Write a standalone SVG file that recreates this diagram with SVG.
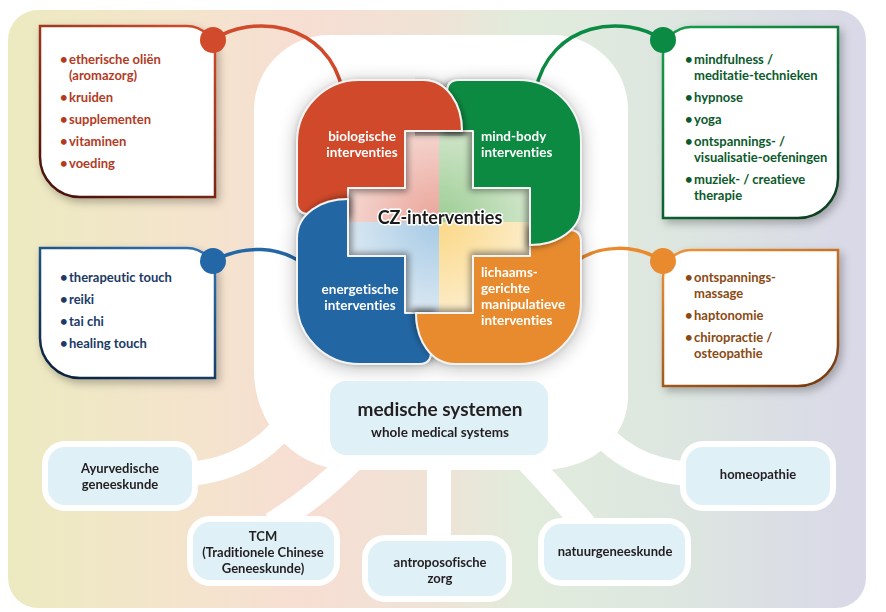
<svg xmlns="http://www.w3.org/2000/svg" width="886" height="612" viewBox="0 0 886 612">
<style>
.t{font-family:Lato,"Liberation Sans",sans-serif;font-weight:700;font-variant-ligatures:none}
.li{font-size:13px}
.cr{fill:#b23b1f}.cb{fill:#1b3a66}.cg{fill:#0b5a2b}.co{fill:#8a4a12}
.pt{fill:#fff;font-size:13.5px}
.nd{fill:#231f20;font-size:13px;text-anchor:middle}
.bn{fill:#dff0f7;stroke:#fff;stroke-width:6}
.br{fill:none;stroke:#fff;stroke-width:24}
.ln{fill:none;stroke-width:3.5}
.box{fill:#fff;stroke-width:2.5}
.pc{stroke:#f4f4f4;stroke-width:2;stroke-linejoin:round}
</style>
<defs>
<linearGradient id="bg" x1="8" y1="0" x2="866" y2="0" gradientUnits="userSpaceOnUse">
<stop offset="0" stop-color="#eceac0"/>
<stop offset="0.18" stop-color="#f3e5cb"/>
<stop offset="0.35" stop-color="#f7ded3"/>
<stop offset="0.5" stop-color="#efe3d6"/>
<stop offset="0.6" stop-color="#e1ecdc"/>
<stop offset="0.78" stop-color="#dde6e0"/>
<stop offset="1" stop-color="#d9d8e8"/>
</linearGradient>
<linearGradient id="gTL" x1="0.8" y1="0" x2="0.2" y2="1"><stop offset="0" stop-color="#cc4b2b"/><stop offset="1" stop-color="#4a1208"/></linearGradient>
<linearGradient id="gBL" x1="0.8" y1="0" x2="0.2" y2="1"><stop offset="0" stop-color="#2d6fae"/><stop offset="1" stop-color="#0e2440"/></linearGradient>
<linearGradient id="gTR" x1="0.2" y1="0" x2="0.8" y2="1"><stop offset="0" stop-color="#169a4a"/><stop offset="1" stop-color="#0b3f1f"/></linearGradient>
<linearGradient id="gBR" x1="0.2" y1="0" x2="0.8" y2="1"><stop offset="0" stop-color="#ea8f34"/><stop offset="1" stop-color="#7a3c10"/></linearGradient>
<radialGradient id="qTL" cx="439" cy="222" r="115" gradientUnits="userSpaceOnUse"><stop offset="0" stop-color="#eaa398"/><stop offset="1" stop-color="#f7e3dd"/></radialGradient>
<radialGradient id="qTR" cx="439" cy="222" r="115" gradientUnits="userSpaceOnUse"><stop offset="0" stop-color="#9ccd94"/><stop offset="1" stop-color="#dcebd6"/></radialGradient>
<radialGradient id="qBL" cx="439" cy="222" r="115" gradientUnits="userSpaceOnUse"><stop offset="0" stop-color="#a6cae5"/><stop offset="1" stop-color="#e6eff5"/></radialGradient>
<radialGradient id="qBR" cx="439" cy="222" r="115" gradientUnits="userSpaceOnUse"><stop offset="0" stop-color="#fcd888"/><stop offset="1" stop-color="#fbf1d8"/></radialGradient>
<filter id="sh" x="-20%" y="-20%" width="140%" height="140%"><feDropShadow dx="3" dy="4" stdDeviation="4" flood-color="#000" flood-opacity="0.28"/></filter>
<filter id="psh" x="-20%" y="-20%" width="140%" height="140%"><feDropShadow dx="2" dy="3" stdDeviation="3" flood-color="#000" flood-opacity="0.4"/></filter>
<filter id="wide" x="-30%" y="-30%" width="160%" height="160%"><feGaussianBlur in="SourceAlpha" stdDeviation="10"/><feOffset dy="3"/><feComponentTransfer><feFuncA type="linear" slope="0.3"/></feComponentTransfer></filter>
<path id="piece" d="M 348,214 L 309,214 Q 297,214 297,202 L 297,142 C 297,108 325,80 359,80 L 423,80 C 447,80 462,104 462,131 L 405,131 L 405,188 L 348,188 Z"/>
<clipPath id="capclip"><rect x="415" y="60" width="60" height="76"/></clipPath>
</defs>

<rect width="886" height="612" fill="#fff"/>
<rect id="panel" x="8" y="10" width="858" height="598" rx="30" fill="url(#bg)"/>
<path id="hub-area" d="M 329,35 H 553 A 75 75 0 0 1 628,110 V 395 C 628,440 590,470 540,470 H 350 C 295,470 254,425 254,370 V 110 A 75 75 0 0 1 329,35 Z" fill="#fff"/>

<g id="box-biologisch">
<path class="box" stroke="url(#gTL)" filter="url(#sh)" d="M 40,26 H 187 A 28 28 0 0 1 215,54 V 197 H 80 A 40 40 0 0 1 40,157 Z"/>
<text class="t li cr"><tspan x="60" y="64">•</tspan><tspan x="69" y="64">etherische oliën</tspan><tspan x="69" y="80">(aromazorg)</tspan><tspan x="60" y="102">•</tspan><tspan x="69" y="102">kruiden</tspan><tspan x="60" y="124">•</tspan><tspan x="69" y="124">supplementen</tspan><tspan x="60" y="146">•</tspan><tspan x="69" y="146">vitaminen</tspan><tspan x="60" y="168">•</tspan><tspan x="69" y="168">voeding</tspan></text>
</g>
<g id="box-energetisch">
<path class="box" stroke="url(#gBL)" filter="url(#sh)" d="M 40,248 H 187 A 28 28 0 0 1 215,276 V 378 H 80 A 40 40 0 0 1 40,338 Z"/>
<text class="t li cb"><tspan x="60" y="282">•</tspan><tspan x="69" y="282">therapeutic touch</tspan><tspan x="60" y="304">•</tspan><tspan x="69" y="304">reiki</tspan><tspan x="60" y="326">•</tspan><tspan x="69" y="326">tai chi</tspan><tspan x="60" y="348">•</tspan><tspan x="69" y="348">healing touch</tspan></text>
</g>
<g id="box-mindbody">
<path class="box" stroke="url(#gTR)" filter="url(#sh)" d="M 691,27 H 838 V 178 A 40 40 0 0 1 798,218 H 663 V 55 A 28 28 0 0 1 691,27 Z"/>
<text class="t li cg"><tspan x="685" y="64">•</tspan><tspan x="694" y="64">mindfulness /</tspan><tspan x="694" y="80">meditatie-technieken</tspan><tspan x="685" y="102">•</tspan><tspan x="694" y="102">hypnose</tspan><tspan x="685" y="124">•</tspan><tspan x="694" y="124">yoga</tspan><tspan x="685" y="146">•</tspan><tspan x="694" y="146">ontspannings- /</tspan><tspan x="694" y="162">visualisatie-oefeningen</tspan><tspan x="685" y="184">•</tspan><tspan x="694" y="184">muziek- / creatieve</tspan><tspan x="694" y="200">therapie</tspan></text>
</g>
<g id="box-lichaam">
<path class="box" stroke="url(#gBR)" filter="url(#sh)" d="M 691,250 H 838 V 346 A 40 40 0 0 1 798,386 H 663 V 278 A 28 28 0 0 1 691,250 Z"/>
<text class="t li co"><tspan x="685" y="282">•</tspan><tspan x="694" y="282">ontspannings-</tspan><tspan x="694" y="298">massage</tspan><tspan x="685" y="320">•</tspan><tspan x="694" y="320">haptonomie</tspan><tspan x="685" y="342">•</tspan><tspan x="694" y="342">chiropractie /</tspan><tspan x="694" y="358">osteopathie</tspan></text>
</g>

<g id="connectors">
<path class="br" d="M 285,425 Q 250,468 190,474"/>
<path class="br" d="M 360,452 Q 320,495 272,524"/>
<path class="br" stroke-width="22" d="M 439,455 L 439,540"/>
<path class="br" d="M 522,455 Q 555,490 585,525"/>
<path class="br" d="M 590,420 Q 625,470 690,474"/>
<path class="ln" stroke="#d04a2b" d="M 213,40 C 250,14 328,20 343,92"/>
<path class="ln" stroke="#0a8a43" d="M 663,40 C 626,14 550,20 535,92"/>
<path class="ln" stroke="#2467a6" d="M 213,261 C 245,244 280,246 305,265"/>
<path class="ln" stroke="#e98a2e" d="M 663,261 C 635,244 600,244 575,262"/>
<circle cx="213" cy="40" r="13" fill="#d04a2b"/>
<circle cx="663" cy="40" r="13" fill="#0a8a43"/>
<circle cx="213" cy="261" r="13" fill="#2467a6"/>
<circle cx="663" cy="261" r="13" fill="#e98a2e"/>
</g>

<g id="clover">
<g filter="url(#wide)">
<use href="#piece" fill="#000"/>
<use href="#piece" fill="#000" transform="rotate(90 439 222)"/>
<use href="#piece" fill="#000" transform="rotate(180 439 222)"/>
<use href="#piece" fill="#000" transform="rotate(270 439 222)"/>
</g>
<rect x="348" y="131" width="91" height="91" fill="url(#qTL)"/>
<rect x="439" y="131" width="91" height="91" fill="url(#qTR)"/>
<rect x="348" y="222" width="91" height="91" fill="url(#qBL)"/>
<rect x="439" y="222" width="91" height="91" fill="url(#qBR)"/>
<g id="piece-biologisch"><use class="pc" href="#piece" fill="#d04a2b" filter="url(#psh)"/></g>
<g id="piece-energetisch"><use class="pc" href="#piece" fill="#2266a3" filter="url(#psh)" transform="rotate(270 439 222)"/></g>
<g id="piece-lichaam"><use class="pc" href="#piece" fill="#e88b2e" filter="url(#psh)" transform="rotate(180 439 222)"/></g>
<g id="piece-mindbody"><use class="pc" href="#piece" fill="#0a8a43" filter="url(#psh)" transform="rotate(90 439 222)"/></g>
<g clip-path="url(#capclip)"><use class="pc" href="#piece" fill="#d04a2b" filter="url(#psh)"/></g>
<text class="t pt" text-anchor="middle"><tspan x="362" y="141">biologische</tspan><tspan x="362" y="157">interventies</tspan></text>
<text class="t pt"><tspan x="481" y="141">mind-body</tspan><tspan x="481" y="157">interventies</tspan></text>
<text class="t pt" text-anchor="middle"><tspan x="360" y="294">energetische</tspan><tspan x="360" y="310">interventies</tspan></text>
<text class="t pt"><tspan x="481" y="277">lichaams-</tspan><tspan x="481" y="293">gerichte</tspan><tspan x="481" y="309">manipulatieve</tspan><tspan x="481" y="325">interventies</tspan></text>
<text id="center-label" class="t" x="440" y="224" text-anchor="middle" font-size="18" fill="#1a1a1a" stroke="#fff" stroke-width="3" paint-order="stroke" stroke-linejoin="round">CZ-interventies</text>
</g>

<g id="node-medische">
<rect x="330" y="381" width="218" height="74" rx="16" fill="#dff0f7"/>
<text class="t" x="440" y="416" text-anchor="middle" font-size="19" fill="#231f20">medische systemen</text>
<text class="t" x="440" y="437" text-anchor="middle" font-size="13.5" fill="#231f20">whole medical systems</text>
</g>
<g id="node-ayurveda">
<rect class="bn" x="45" y="444" width="150" height="64" rx="20"/>
<text class="t nd"><tspan x="120" y="473">Ayurvedische</tspan><tspan x="120" y="489">geneeskunde</tspan></text>
</g>
<g id="node-tcm">
<rect class="bn" x="190" y="519" width="147" height="64" rx="20"/>
<text class="t nd"><tspan x="263" y="541">TCM</tspan><tspan x="263" y="557">(Traditionele Chinese</tspan><tspan x="263" y="573">Geneeskunde)</tspan></text>
</g>
<g id="node-antroposofisch">
<rect class="bn" x="365" y="538" width="144" height="61" rx="20"/>
<text class="t nd"><tspan x="440" y="567">antroposofische</tspan><tspan x="440" y="583">zorg</tspan></text>
</g>
<g id="node-natuur">
<rect class="bn" x="541" y="521" width="147" height="62" rx="20"/>
<text class="t nd" x="615" y="556">natuurgeneeskunde</text>
</g>
<g id="node-homeopathie">
<rect class="bn" x="683" y="444" width="150" height="64" rx="20"/>
<text class="t nd" x="758" y="479">homeopathie</text>
</g>
</svg>
